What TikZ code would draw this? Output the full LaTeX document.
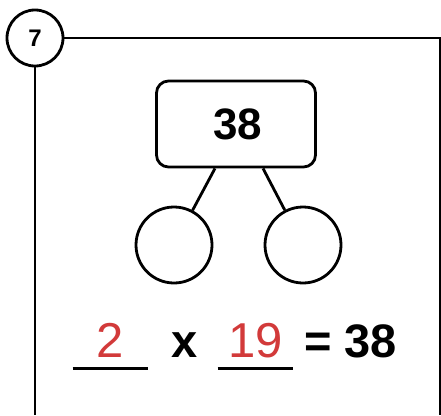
\documentclass[tikz,border=0pt]{standalone}
\usepackage{fontspec}
\setmainfont{Liberation Sans}
\usetikzlibrary{positioning,calc}
\definecolor{AnswerRed}{HTML}{D23A3A}

\begin{document}
\begin{tikzpicture}[x=1pt,y=-1pt,
      line width=2.8pt,
      badge/.style={draw,circle,minimum size=56pt,inner sep=0pt,
                    font=\fontsize{24}{24}\selectfont\bfseries},
      whole/.style={draw,rounded corners=12pt,minimum width=159pt,minimum height=86pt,
                    font=\fontsize{44}{44}\selectfont\bfseries},
      part/.style={draw,circle,minimum size=76pt,inner sep=0pt},
      blank/.style={anchor=base,inner sep=0pt,minimum width=73pt,text depth=10pt,
                    text=AnswerRed,font=\fontsize{49}{49}\selectfont},
      sign/.style={anchor=base,inner sep=0pt,font=\fontsize{47}{47}\selectfont\bfseries},
    ]
    \useasboundingbox (0,0) rectangle (441,415);
    % Question number and frame
    \node[badge] (num) at (35,38) {7};
    \coordinate (frameTR) at (440,38);
    \coordinate (frameBR) at (440,415);
    \coordinate (frameBL) at (35,415);
    \draw (num.east) -- (frameTR) -- (frameBR);
    \draw (num.south) -- (frameBL);
    % Number bond
    \node[whole] (total) at (236,124) {\hspace{3pt}38};
    \node[part] (left)  at (174,245) {};
    \node[part] (right) at (303,245) {};
    \draw ($(total.south)+(-21,0)$) -- (left);
    \draw ($(total.south)+(27,0)$) -- (right);
    % Equation
    \node[blank] (factA) at (110.5,357) {2};
    \node[blank] (factB) at (255.5,357) {19};
    \node[sign] (times)   at (185,357) {x};
    \node[sign] (product) at (350.5,357) {= 38};
    \draw (factA.south west) -- (factA.south east);
    \draw (factB.south west) -- (factB.south east);
\end{tikzpicture}
\end{document}
